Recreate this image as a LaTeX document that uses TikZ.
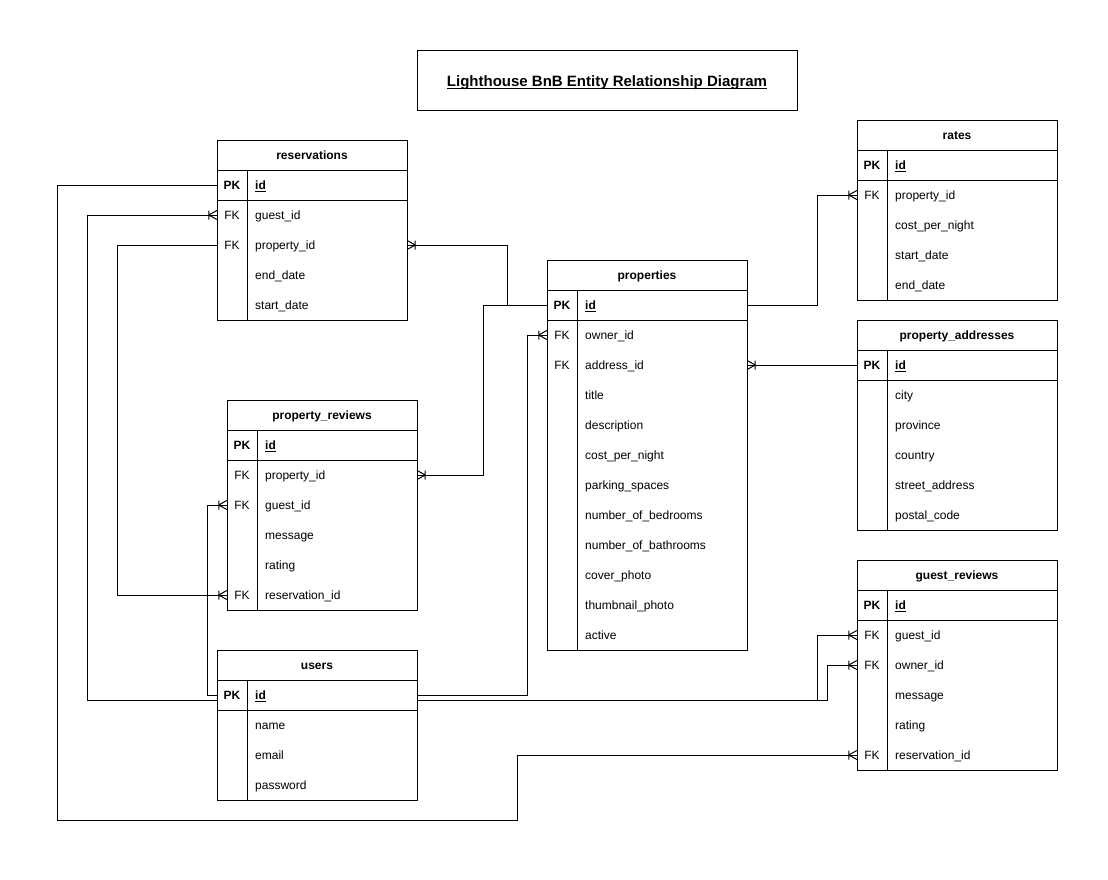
\documentclass[tikz,border=0pt]{standalone}
\usepackage{fontspec}
\setmainfont{Liberation Sans}
\newsavebox\ulnbox
\newcommand\uln[1]{\sbox\ulnbox{#1}\leavevmode\rlap{\rule[-2pt]{\wd\ulnbox}{1pt}}\usebox\ulnbox}
\pgfdeclarearrow{
  name = crow,
  setup code = {
    \pgfarrowssettipend{0pt}
    \pgfarrowssetlineend{0pt}
    \pgfarrowssetbackend{-9pt}
    \pgfarrowssetvisualbackend{-9pt}
    \pgfarrowsupperhullpoint{0pt}{5pt}
    \pgfarrowsupperhullpoint{-9pt}{5pt}
  },
  drawing code = {
    \pgfsetdash{}{0pt}
    \pgfpathmoveto{\pgfqpoint{-8pt}{0pt}}
    \pgfpathlineto{\pgfqpoint{0pt}{4.5pt}}
    \pgfpathmoveto{\pgfqpoint{-8pt}{0pt}}
    \pgfpathlineto{\pgfqpoint{0pt}{-4.5pt}}
    \pgfpathmoveto{\pgfqpoint{-8pt}{4.5pt}}
    \pgfpathlineto{\pgfqpoint{-8pt}{-4.5pt}}
    \pgfusepathqstroke
  }
}
\newcommand\erfont{\fontsize{12pt}{14pt}\selectfont}
\tikzset{
  every node/.style={font=\erfont, inner sep=0pt, text=black, text height=9.5pt, text depth=0pt},
  hdr/.style={draw, line width=1pt, minimum height=30pt, font=\erfont\bfseries},
  rowbox/.style={minimum height=30pt},
  pkkey/.style={font=\erfont\bfseries},
  fieldt/.style={anchor=west},
  pkfield/.style={anchor=west, font=\erfont\bfseries},
  tbl/.style={line width=1pt},
  rel/.style={line width=1pt, -crow},
  titlebox/.style={draw, line width=1pt, minimum width=380pt, minimum height=60pt, text height=13pt, text depth=0pt, font=\fontsize{15pt}{18pt}\selectfont\bfseries}
}
% #1 name, #2 x, #3 y, #4 width, #5 title, #6 number of rows after PK, #7 rows key/field
\newcommand\ertable[7]{%
  \node[hdr, minimum width=#4pt] (#1) at (#2+#4/2, #3+15) {#5};
  \node[rowbox, minimum width=#4pt] (#1-pk) at (#2+#4/2, #3+45) {};
  \node[pkkey] (#1-pk-k) at (#2+15, #3+45) {PK};
  \node[pkfield] (#1-pk-f) at (#2+38, #3+45) {\uln{id}};
  \foreach \rk/\rf [count=\ri] in {#7} {
    \node[rowbox, minimum width=#4pt] (#1-\ri) at (#2+#4/2, #3+45+30*\ri) {};
    \node (#1-\ri-k) at (#2+15, #3+45+30*\ri) {\rk};
    \node[fieldt] (#1-\ri-f) at (#2+38, #3+45+30*\ri) {\rf};
  }
  \draw[tbl] (#2,#3) rectangle (#2+#4, #3+60+30*#6);
  \draw[tbl] (#2,#3+60) -- (#2+#4,#3+60);
  \draw[tbl] (#2+30,#3+30) -- (#2+30,#3+60+30*#6);
}
\begin{document}
\begin{tikzpicture}[x=1pt, y=-1pt]
\useasboundingbox (0,0) rectangle (1108,879);

\node[titlebox] (title) at (607,80) {\uln{Lighthouse BnB Entity Relationship Diagram}};

\ertable{res}{217}{140}{190}{reservations}{4}{FK/guest\_id, FK/property\_id, /end\_date, /start\_date}
\ertable{prop}{547}{260}{200}{properties}{11}{FK/owner\_id, FK/address\_id, /title, /description, /cost\_per\_night, /parking\_spaces, /number\_of\_bedrooms, /number\_of\_bathrooms, /cover\_photo, /thumbnail\_photo, /active}
\ertable{rates}{857}{120}{200}{rates}{4}{FK/property\_id, /cost\_per\_night, /start\_date, /end\_date}
\ertable{paddr}{857}{320}{200}{property\_addresses}{5}{/city, /province, /country, /street\_address, /postal\_code}
\ertable{prev}{227}{400}{190}{property\_reviews}{5}{FK/property\_id, FK/guest\_id, /message, /rating, FK/reservation\_id}
\ertable{users}{217}{650}{200}{users}{3}{/name, /email, /password}
\ertable{gr}{857}{560}{200}{guest\_reviews}{5}{FK/guest\_id, FK/owner\_id, /message, /rating, FK/reservation\_id}

% connectors
\draw[rel] (res-pk.west) -- (57,185) -- (57,820) -- (517,820) |- (gr-5.west);
\draw[rel] ([yshift=-5pt]users-pk.west) -- (87,700) |- (res-1.west);
\draw[rel] (res-2.west) -- (117,245) |- (prev-5.west);
\draw[rel] (prop-pk.west) -- (507,305) |- (res-2.east);
\draw[rel] (prop-pk.west) -- (483,305) |- (prev-1.east);
\draw[rel] (users-pk.east) -- (527,695) |- (prop-1.west);
\draw[rel] ([yshift=-5pt]users-pk.east) -- (827,700) |- (gr-2.west);
\draw[rel] ([yshift=-5pt]users-pk.east) -- (817,700) |- (gr-1.west);
\draw[rel] (prop-pk.east) -- (817,305) |- (rates-1.west);
\draw[rel] (paddr-pk.west) -- (prop-2.east);
\draw[rel] (users-pk.west) -- (207,695) |- (prev-2.west);
\end{tikzpicture}
\end{document}
